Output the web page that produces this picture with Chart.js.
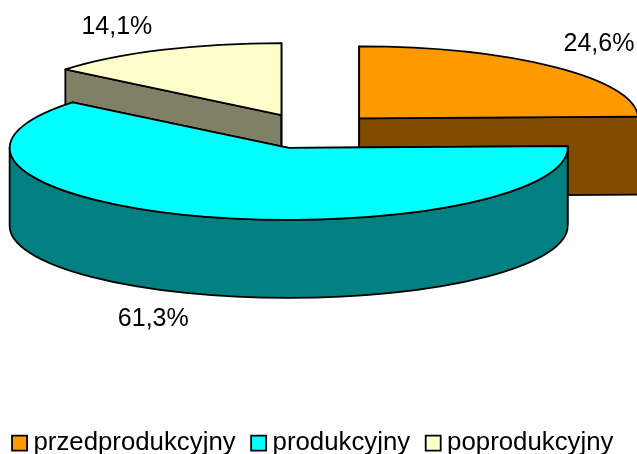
<!DOCTYPE html>
<html>
<head>
<meta charset="utf-8">
<title>Wykres</title>
<script src="https://cdn.jsdelivr.net/npm/chart.js@4/dist/chart.umd.min.js"></script>
<style>
  html, body { margin: 0; padding: 0; background: #ffffff; }
  canvas { display: block; }
</style>
</head>
<body>
<canvas id="chart" width="637" height="454"></canvas>
<script>
const categories = ['przedprodukcyjny', 'produkcyjny', 'poprodukcyjny'];
const shares = [24.6, 61.3, 14.1];
const topColors = ['#ff9900', '#00ffff', '#ffffcc'];
const sideColors = ['#804d00', '#008080', '#808066'];

const tilt = 0.258;
const depth = 78;
const shiftX = -7.5;
const shiftY = -73;
const paintOrder = [2, 0, 1];

function sliceGeometry(arc) {
  const mid = (arc.startAngle + arc.endAngle) / 2;
  const explode = arc.options.offset;
  return {
    mid,
    r: arc.outerRadius,
    cx: arc.x + shiftX + Math.cos(mid) * explode,
    cy: arc.y + shiftY + Math.sin(mid) * explode * tilt
  };
}

function radialWall(ctx, g, angle) {
  const ex = g.cx + Math.cos(angle) * g.r;
  const ey = g.cy + Math.sin(angle) * g.r * tilt;
  ctx.beginPath();
  ctx.moveTo(g.cx, g.cy);
  ctx.lineTo(ex, ey);
  ctx.lineTo(ex, ey + depth);
  ctx.lineTo(g.cx, g.cy + depth);
  ctx.closePath();
  ctx.fill();
  ctx.stroke();
}

function outerWall(ctx, g, from, to) {
  const lo = Math.max(from, 0);
  const hi = Math.min(to, Math.PI);
  if (hi <= lo) return;
  const ry = g.r * tilt;
  ctx.beginPath();
  ctx.ellipse(g.cx, g.cy, g.r, ry, 0, lo, hi, false);
  ctx.ellipse(g.cx, g.cy + depth, g.r, ry, 0, hi, lo, true);
  ctx.closePath();
  ctx.fill();
  ctx.stroke();
}

function drawSlice(ctx, arc, index) {
  const g = sliceGeometry(arc);
  ctx.lineWidth = arc.options.borderWidth;
  ctx.strokeStyle = arc.options.borderColor;
  ctx.lineJoin = 'round';

  ctx.fillStyle = sideColors[index];
  radialWall(ctx, g, arc.startAngle);
  radialWall(ctx, g, arc.endAngle);
  outerWall(ctx, g, arc.startAngle, arc.endAngle);

  ctx.fillStyle = arc.options.backgroundColor;
  ctx.beginPath();
  ctx.moveTo(g.cx, g.cy);
  ctx.ellipse(g.cx, g.cy, g.r, g.r * tilt, 0, arc.startAngle, arc.endAngle, false);
  ctx.closePath();
  ctx.fill();
  ctx.stroke();
}

const pie3d = {
  id: 'pie3d',
  beforeDatasetDraw(chart, args) {
    const ctx = chart.ctx;
    const arcs = args.meta.data;
    ctx.save();
    paintOrder.forEach((i) => drawSlice(ctx, arcs[i], i));
    ctx.restore();
    return false;
  },
  afterDatasetsDraw(chart) {
    const ctx = chart.ctx;
    const arcs = chart.getDatasetMeta(0).data;
    ctx.save();
    ctx.font = '25px "Liberation Sans"';
    ctx.fillStyle = '#000000';
    ctx.textAlign = 'center';
    ctx.textBaseline = 'middle';
    arcs.forEach((arc, i) => {
      const g = sliceGeometry(arc);
      const front = Math.sin(g.mid) > 0;
      const x = g.cx + Math.cos(g.mid) * g.r + Math.sign(Math.cos(g.mid)) * 45;
      const y = g.cy + Math.sin(g.mid) * g.r * tilt + (front ? depth + 25 : -23);
      ctx.fillText(shares[i].toFixed(1).replace('.', ',') + '%', x, y);
    });
    ctx.restore();
  }
};

new Chart(document.getElementById('chart'), {
  type: 'pie',
  data: {
    labels: categories,
    datasets: [{
      data: shares,
      backgroundColor: topColors,
      borderColor: '#000000',
      borderWidth: 1.8,
      offset: 69,
      radius: 279
    }]
  },
  options: {
    responsive: false,
    animation: false,
    layout: { padding: { left: -9.5, right: -4.5, bottom: -12 } },
    plugins: {
      tooltip: { enabled: false },
      legend: {
        position: 'bottom',
        labels: {
          font: { family: '"Liberation Sans"', size: 25.8 },
          color: '#000000',
          usePointStyle: true,
          pointStyle: 'rect',
          boxWidth: 2,
          boxHeight: 15,
          padding: 22
        }
      }
    }
  },
  plugins: [pie3d]
});
</script>
</body>
</html>
